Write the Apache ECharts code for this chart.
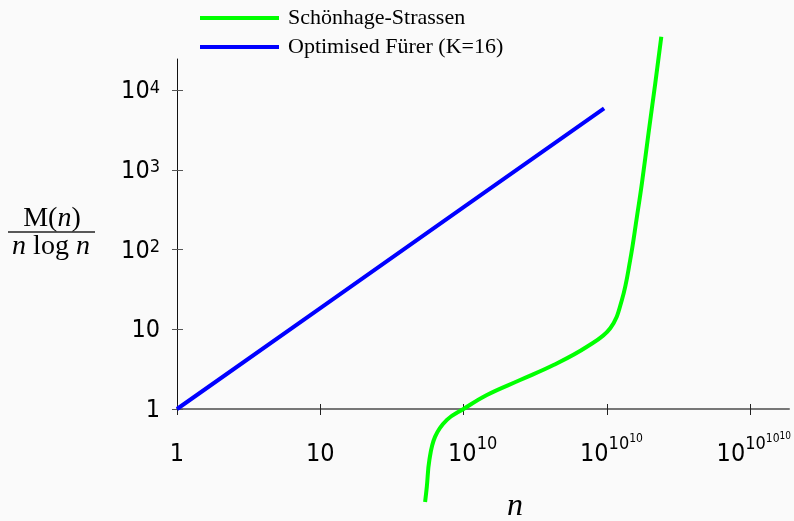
<!DOCTYPE html>
<html>
<head>
<meta charset="utf-8">
<title>M(n) / n log n</title>
<script src="https://cdn.jsdelivr.net/npm/echarts@6/dist/echarts.min.js"></script>
<style>
    html, body {margin: 0; padding: 0; background: #fafafa;}
    #main {width: 794px; height: 521px;}
</style>
</head>
<body>
<div id="main"></div>
<script>
    // x is in "tower" steps: 0 -> 1, 1 -> 10, 2 -> 10^10, 3 -> 10^10^10, 4 -> 10^10^10^10
    var xTicks = [0, 1, 2, 3, 4];
    var xTickLabels = [
        '{b|1}',
        '{b|10}',
        '{p1|10}{s1|10}',
        '{p2|10}{s1|10}{s2|10}',
        '{p3|10}{s1|10}{s2|10}{s3|10}'
    ];
    var yTicks = [1, 10, 100, 1000, 10000];
    var yTickLabels = ['{b|1}', '{b|10}', '{b|10}{s|2}', '{b|10}{s|3}', '{b|10}{s|4}'];

    var seriesNames = ['Schönhage-Strassen', 'Optimised Fürer (K=16)'];
    var schonhageX = [1.731, 1.743, 1.761, 1.801, 1.883, 1.999, 2.162, 2.394, 2.627, 2.860, 3.023, 3.104, 3.162, 3.209, 3.244, 3.290, 3.337, 3.379];
    var schonhageY = [0.068, 0.106, 0.23, 0.45, 0.73, 1.0, 1.5, 2.31, 3.56, 6.04, 10.3, 23.3, 73.9, 258, 682, 2890, 12200, 46600];
    var furerX = [0, 1, 2, 2.98];
    var furerY = [1, 18.4, 340, 5900];

    var sans = "'DejaVu Sans Condensed', 'DejaVu Sans', sans-serif";
    var serif = "'Liberation Serif', 'DejaVu Serif', serif";

    function pairs(xs, ys) {
        return xs.map(function (x, i) {
            return [x, ys[i]];
        });
    }

    var xRich = {
        b: {fontFamily: sans, fontSize: 25, lineHeight: 40, verticalAlign: 'bottom', color: '#000'},
        p1: {fontFamily: sans, fontSize: 25, lineHeight: 40, verticalAlign: 'bottom', color: '#000', padding: [0, 0, 0, 18]},
        p2: {fontFamily: sans, fontSize: 25, lineHeight: 40, verticalAlign: 'bottom', color: '#000', padding: [0, 0, 0, 9]},
        p3: {fontFamily: sans, fontSize: 25, lineHeight: 40, verticalAlign: 'bottom', color: '#000', padding: [0, 0, 0, 7]},
        s1: {fontFamily: sans, fontSize: 18, verticalAlign: 'bottom', color: '#000', padding: [0, 0, 14, 0]},
        s2: {fontFamily: sans, fontSize: 12, verticalAlign: 'bottom', color: '#000', padding: [0, 0, 22, 0]},
        s3: {fontFamily: sans, fontSize: 10, verticalAlign: 'bottom', color: '#000', padding: [0, 0, 26, 0]}
    };
    var yRich = {
        b: {fontFamily: sans, fontSize: 25, lineHeight: 28, verticalAlign: 'bottom', color: '#000'},
        s: {fontFamily: sans, fontSize: 18, verticalAlign: 'bottom', color: '#000', padding: [0, 0, 7, 0]}
    };

    var chart = echarts.init(document.getElementById('main'));
    chart.setOption({
        animation: false,
        backgroundColor: '#fafafa',
        grid: {left: 177, right: 5, top: 59, bottom: 112},
        legend: {
            orient: 'vertical', left: 195, top: 2,
            icon: 'rect', itemWidth: 79, itemHeight: 4, itemGap: 7,
            textStyle: {fontFamily: serif, fontSize: 22, lineHeight: 22, color: '#000', padding: [0, 0, 0, 4]},
            data: seriesNames
        },
        xAxis: [
            {
                type: 'value', min: 0, max: 4.27, interval: 1,
                axisLine: {onZero: false, lineStyle: {color: '#777', width: 2}},
                axisTick: {length: 6, lineStyle: {color: '#222', width: 1}, customValues: xTicks},
                axisLabel: {
                    margin: 18, rich: xRich, customValues: xTicks,
                    formatter: function (v) {
                        var i = xTicks.indexOf(Math.round(v));
                        return i < 0 ? '' : xTickLabels[i];
                    }
                },
                splitLine: {show: false}
            },
            {
                type: 'value', min: 0, max: 4.27, interval: 1, position: 'bottom',
                axisLine: {show: false},
                axisTick: {inside: true, length: 5, lineStyle: {color: '#222', width: 1}, customValues: xTicks},
                axisLabel: {show: false},
                splitLine: {show: false}
            }
        ],
        yAxis: [
            {
                type: 'log', logBase: 10, min: 1, max: 24500,
                axisLine: {show: true, onZero: false, lineStyle: {color: '#111', width: 1}},
                axisTick: {show: true, length: 5, lineStyle: {color: '#555', width: 1}, customValues: yTicks},
                axisLabel: {
                    margin: 17, rich: yRich, customValues: yTicks,
                    formatter: function (v) {
                        var i = Math.round(Math.log10(v));
                        return yTickLabels[i] || '';
                    }
                },
                splitLine: {show: false}
            },
            {
                type: 'log', logBase: 10, min: 1, max: 24500, position: 'left',
                axisLine: {show: false},
                axisTick: {show: true, inside: true, length: 6, lineStyle: {color: '#555', width: 1}, customValues: yTicks},
                axisLabel: {show: false},
                splitLine: {show: false}
            }
        ],
        series: [
            {
                name: seriesNames[0], type: 'line', smooth: 0.4, clip: false,
                showSymbol: false, symbol: 'none',
                lineStyle: {color: '#00ff00', width: 4}, itemStyle: {color: '#00ff00'},
                data: pairs(schonhageX, schonhageY)
            },
            {
                name: seriesNames[1], type: 'line', clip: false,
                showSymbol: false, symbol: 'none',
                lineStyle: {color: '#0000ff', width: 4}, itemStyle: {color: '#0000ff'},
                data: pairs(furerX, furerY)
            }
        ],
        graphic: [
            {
                type: 'text', x: 52, y: 219,
                style: {
                    text: '{r|M(}{i|n}{r|)}', align: 'center', verticalAlign: 'middle',
                    rich: {
                        r: {fontFamily: serif, fontSize: 28, fill: '#000'},
                        i: {fontFamily: serif, fontSize: 28, fontStyle: 'italic', fill: '#000'}
                    }
                }
            },
            {
                type: 'line', shape: {x1: 8, y1: 232, x2: 95, y2: 232},
                style: {stroke: '#222', lineWidth: 1.5}
            },
            {
                type: 'text', x: 51, y: 247,
                style: {
                    text: '{i|n} {r|log} {i|n}', align: 'center', verticalAlign: 'middle',
                    fontFamily: serif, fontSize: 28,
                    rich: {
                        r: {fontFamily: serif, fontSize: 28, fill: '#000'},
                        i: {fontFamily: serif, fontSize: 28, fontStyle: 'italic', fill: '#000'}
                    }
                }
            },
            {
                type: 'text', x: 515, y: 507,
                style: {
                    text: 'n', align: 'center', verticalAlign: 'middle',
                    fontFamily: serif, fontSize: 32, fontStyle: 'italic', fill: '#000'
                }
            }
        ]
    });
</script>
</body>
</html>
